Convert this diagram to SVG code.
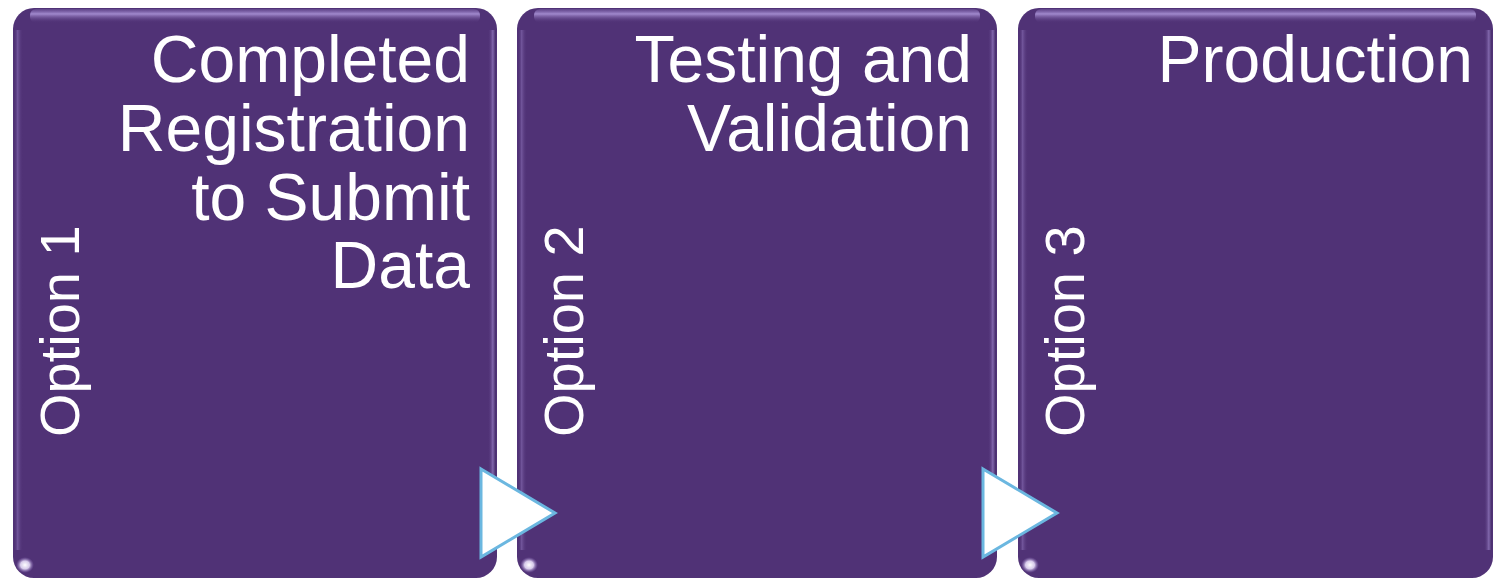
<svg xmlns="http://www.w3.org/2000/svg" width="1495" height="579" viewBox="0 0 1495 579">
<defs>
<linearGradient id="topHi" x1="0" y1="0" x2="0" y2="1">
<stop offset="0" stop-color="#6a4f96" stop-opacity="0.6"/>
<stop offset="0.35" stop-color="#a58ed2" stop-opacity="0.95"/>
<stop offset="1" stop-color="#503276" stop-opacity="0"/>
</linearGradient>
<linearGradient id="leftHi" x1="0" y1="0" x2="1" y2="0">
<stop offset="0" stop-color="#503276" stop-opacity="0"/>
<stop offset="0.4" stop-color="#7d62a8" stop-opacity="0.75"/>
<stop offset="1" stop-color="#503276" stop-opacity="0"/>
</linearGradient>
<linearGradient id="rightHi" x1="0" y1="0" x2="1" y2="0">
<stop offset="0" stop-color="#503276" stop-opacity="0"/>
<stop offset="0.6" stop-color="#8f76bb" stop-opacity="0.8"/>
<stop offset="1" stop-color="#3d2560" stop-opacity="0.6"/>
</linearGradient>
<radialGradient id="glow" cx="0.5" cy="0.5" r="0.5">
<stop offset="0" stop-color="#ffffff" stop-opacity="1"/>
<stop offset="0.5" stop-color="#efe6ff" stop-opacity="0.85"/>
<stop offset="1" stop-color="#8a6cbd" stop-opacity="0"/>
</radialGradient>
</defs>
<style>
.box{fill:#503276;}
.title{font-family:"Liberation Sans",Arial,sans-serif;font-size:66px;fill:#ffffff;text-anchor:end;}
.opt{font-family:"Liberation Sans",Arial,sans-serif;font-size:56px;fill:#ffffff;}
.arrow{fill:#ffffff;stroke:#6bb7e0;stroke-width:3;stroke-linejoin:miter;}
</style>
<rect width="1495" height="579" fill="#ffffff"/>
<g id="node1">
<rect class="box" x="13" y="8" width="484" height="570" rx="21"/>
<rect x="30" y="9" width="450" height="14" rx="6" fill="url(#topHi)"/>
<rect x="14" y="30" width="9" height="520" fill="url(#leftHi)"/>
<rect x="488" y="30" width="8" height="520" fill="url(#rightHi)"/>
<ellipse cx="25" cy="565" rx="9" ry="8" fill="url(#glow)"/>
<text class="title"><tspan x="470" y="82">Completed</tspan><tspan x="470" y="151">Registration</tspan><tspan x="470" y="220">to Submit</tspan><tspan x="470" y="288">Data</tspan></text>
<text class="opt" transform="translate(79,437) rotate(-90)">Option 1</text>
</g>
<g id="node2">
<rect class="box" x="517" y="8" width="480" height="570" rx="21"/>
<rect x="534" y="9" width="446" height="14" rx="6" fill="url(#topHi)"/>
<rect x="518" y="30" width="9" height="520" fill="url(#leftHi)"/>
<rect x="988" y="30" width="8" height="520" fill="url(#rightHi)"/>
<ellipse cx="529" cy="565" rx="9" ry="8" fill="url(#glow)"/>
<text class="title"><tspan x="972" y="82">Testing and</tspan><tspan x="972" y="151">Validation</tspan></text>
<text class="opt" transform="translate(583,437) rotate(-90)">Option 2</text>
</g>
<g id="node3">
<rect class="box" x="1018" y="8" width="475" height="570" rx="21"/>
<rect x="1035" y="9" width="441" height="14" rx="6" fill="url(#topHi)"/>
<rect x="1019" y="30" width="9" height="520" fill="url(#leftHi)"/>
<rect x="1484" y="30" width="8" height="520" fill="url(#rightHi)"/>
<ellipse cx="1030" cy="565" rx="9" ry="8" fill="url(#glow)"/>
<text class="title"><tspan x="1473" y="82">Production</tspan></text>
<text class="opt" transform="translate(1084,437) rotate(-90)">Option 3</text>
</g>
<g id="connectors">
<polygon class="arrow" points="481,469 555,513 481,557"/>
<polygon class="arrow" points="983,469 1057,513 983,557"/>
</g>
</svg>
